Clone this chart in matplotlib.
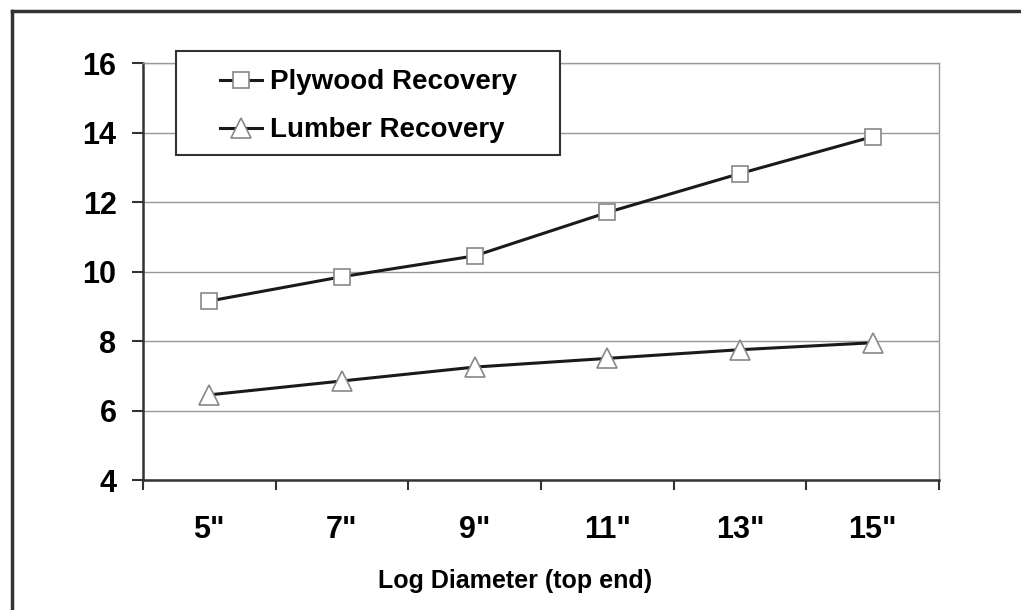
import numpy as np
import matplotlib.pyplot as plt
from matplotlib.lines import Line2D
from matplotlib.patches import Rectangle

plt.rcParams['font.family'] = ['Liberation Sans', 'DejaVu Sans']
plt.rcParams['font.weight'] = 'bold'

diameters = ['5"', '7"', '9"', '11"', '13"', '15"']
plywood = [9.15, 9.85, 10.45, 11.7, 12.82, 13.88]
lumber = [6.45, 6.85, 7.25, 7.5, 7.75, 7.95]

fig = plt.figure(figsize=(10.21, 6.10), dpi=100)
ax = fig.add_axes([0.140, 0.2131, 0.7797, 0.6836])

x = np.arange(len(diameters))
ax.plot(x, plywood, color='#1a1a1a', lw=2.2, marker='s', ms=12,
        mfc='white', mec='#888888', mew=1.2, label='Plywood Recovery', zorder=3)
ax.plot(x, lumber, color='#1a1a1a', lw=2.2, marker='^', ms=15,
        mfc='white', mec='#888888', mew=1.2, label='Lumber Recovery', zorder=3)

ax.set_ylim(4, 16)
ax.set_yticks(range(4, 17, 2))
ax.set_xlim(-0.5, len(diameters) - 0.5)
ax.set_xticks(np.arange(-0.5, len(diameters), 1.0))
ax.set_xticklabels([])
ax.set_xticks(x, minor=True)
ax.set_xticklabels(diameters, minor=True)
ax.tick_params(axis='x', which='minor', length=0, pad=25, labelsize=22)
ax.tick_params(axis='x', which='major', length=7, width=1.5, color='#333333')
ax.tick_params(axis='y', length=8, width=1.5, color='#333333', pad=11, labelsize=22)

ax.yaxis.grid(True, color='#999999', lw=1)
ax.set_axisbelow(True)
for s in ['left', 'bottom']:
    ax.spines[s].set_color('#333333')
    ax.spines[s].set_linewidth(1.8)
for s in ['top', 'right']:
    ax.spines[s].set_color('#999999')
    ax.spines[s].set_linewidth(1)

ax.set_xlabel('Log Diameter (top end)', fontsize=18, fontweight='bold')
ax.xaxis.set_label_coords(0.467, -0.213)

# legend box drawn separately so the padding can match
ax.add_patch(Rectangle((0.0415, 0.779), 0.4825, 0.25, transform=ax.transAxes,
                       facecolor='white', edgecolor='#333333', lw=1.5,
                       clip_on=False, zorder=4))
leg = ax.legend(loc='upper left', bbox_to_anchor=(0.0967, 0.985), fontsize=20,
                handlelength=1.5, handletextpad=0.3, borderpad=0,
                labelspacing=0.8, frameon=False, borderaxespad=0)
leg.set_zorder(5)

fig.add_artist(Line2D([12 / 1021, 12 / 1021], [0, 1 - 11 / 610],
                      transform=fig.transFigure, color='#333333', lw=2.5))
fig.add_artist(Line2D([12 / 1021, 1], [1 - 11 / 610, 1 - 11 / 610],
                      transform=fig.transFigure, color='#333333', lw=2.5))

fig.savefig('out.png', dpi=100)
